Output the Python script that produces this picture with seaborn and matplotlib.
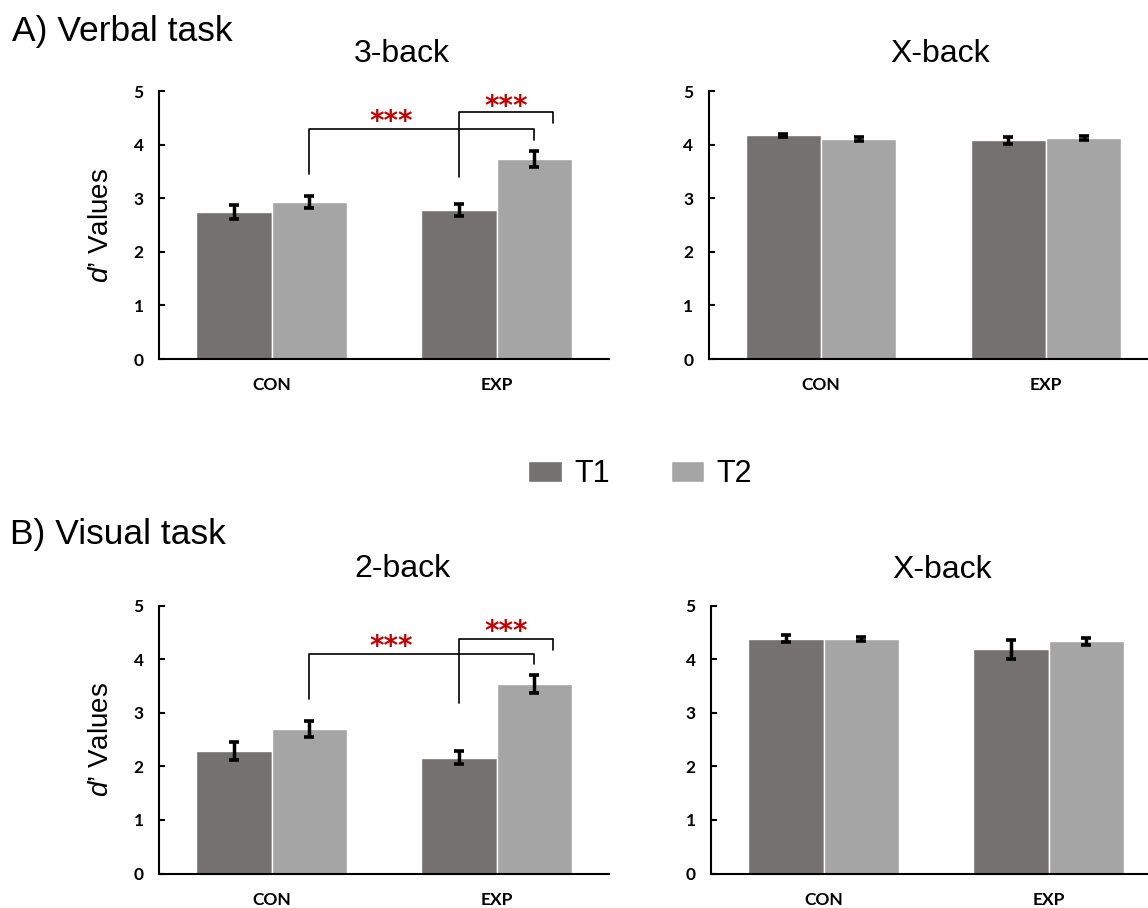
import numpy as np
import pandas as pd
import matplotlib
matplotlib.use("Agg")
import matplotlib.pyplot as plt
import seaborn as sns

# ---------------- data ----------------
groups = ["CON", "EXP"]
times = ["T1", "T2"]

verbal3_t1 = [2.75, 2.78]
verbal3_t2 = [2.93, 3.73]
verbal3_e1 = [0.13, 0.12]
verbal3_e2 = [0.11, 0.15]

verbalx_t1 = [4.17, 4.08]
verbalx_t2 = [4.10, 4.12]
verbalx_e1 = [0.03, 0.06]
verbalx_e2 = [0.04, 0.04]

visual2_t1 = [2.28, 2.16]
visual2_t2 = [2.70, 3.53]
visual2_e1 = [0.17, 0.12]
visual2_e2 = [0.15, 0.17]

visualx_t1 = [4.38, 4.18]
visualx_t2 = [4.38, 4.33]
visualx_e1 = [0.07, 0.18]
visualx_e2 = [0.04, 0.06]

panel_titles = ["3-back", "X-back", "2-back", "X-back"]
section_titles = ["A) Verbal task", "B) Visual task"]
yticks = [0, 1, 2, 3, 4, 5]
stars = "***"

# significance brackets (y levels): [top, left leg end, right leg end]
verbal_br1 = [4.29, 3.45, 4.09]
verbal_br2 = [4.60, 3.39, 4.40]
visual_br1 = [4.09, 3.26, 3.90]
visual_br2 = [4.38, 3.18, 4.17]
verbal_star_y = [4.43, 4.71]
visual_star_y = [4.22, 4.50]

colors = {"T1": "#767171", "T2": "#A5A5A5"}

sns.set_theme(style="white")
plt.rcParams["font.family"] = ["Liberation Sans", "DejaVu Sans"]
plt.rcParams["mathtext.fontset"] = "custom"
plt.rcParams["mathtext.it"] = "Liberation Sans:italic"
plt.rcParams["mathtext.rm"] = "Liberation Sans"
plt.rcParams["text.color"] = "black"
plt.rcParams["axes.labelcolor"] = "black"
plt.rcParams["xtick.color"] = "black"
plt.rcParams["ytick.color"] = "black"

W, H = 1148, 908
fig = plt.figure(figsize=(W / 100, H / 100), dpi=100)


def make_df(t1, t2, e1, e2):
    rows = []
    for g, v, e in zip(groups, t1, e1):
        rows.append({"Group": g, "Time": "T1", "Value": v, "Err": e})
    for g, v, e in zip(groups, t2, e2):
        rows.append({"Group": g, "Time": "T2", "Value": v, "Err": e})
    return pd.DataFrame(rows)


panels = [
    (make_df(verbal3_t1, verbal3_t2, verbal3_e1, verbal3_e2), (159, 91, 359), True, verbal_br1, verbal_br2, verbal_star_y),
    (make_df(verbalx_t1, verbalx_t2, verbalx_e1, verbalx_e2), (708.5, 91, 359), False, None, None, None),
    (make_df(visual2_t1, visual2_t2, visual2_e1, visual2_e2), (159, 605.5, 873.5), True, visual_br1, visual_br2, visual_star_y),
    (make_df(visualx_t1, visualx_t2, visualx_e1, visualx_e2), (711, 605.5, 873.5), False, None, None, None),
]

handles = labels = None

for i, (df, (left, ytop, ybot), has_ylab, br1, br2, sy) in enumerate(panels):
    ax = fig.add_axes([left / W, 1 - ybot / H, 450 / W, (ybot - ytop) / H])
    sns.barplot(data=df, x="Group", y="Value", hue="Time", order=groups,
                hue_order=times, palette=colors, width=0.67, errorbar=None,
                edgecolor="white", linewidth=1.0, saturation=1, ax=ax)
    # error bars from the bars themselves
    for cont, tm in zip(ax.containers, times):
        sub = df[df["Time"] == tm].set_index("Group").loc[groups]
        xs = [b.get_x() + b.get_width() / 2 for b in cont]
        ax.errorbar(xs, sub["Value"].values, yerr=sub["Err"].values, fmt="none",
                    ecolor="black", elinewidth=2.5, capsize=3.3, capthick=2.6, zorder=5)
    ax.set_xlim(-0.5, 1.5)
    ax.set_ylim(0, 5)
    ax.set_yticks(yticks)
    ax.set_xlabel("")
    ax.set_ylabel("")
    for s in ["top", "right"]:
        ax.spines[s].set_visible(False)
    for s in ["left", "bottom"]:
        ax.spines[s].set_color("black")
        ax.spines[s].set_linewidth(1.5)
    ax.tick_params(axis="y", direction="in", length=4.5, width=1.5, pad=11, left=True)
    ax.tick_params(axis="x", length=0, pad=13)
    for lab in ax.get_xticklabels() + ax.get_yticklabels():
        lab.set_fontfamily(["Lato", "DejaVu Sans"])
        lab.set_fontweight("bold")
        lab.set_fontsize(12.5)
        lab.set_color("black")
    if has_ylab:
        ax.set_ylabel(r"$d$" + "\u2019 Values", fontsize=20, labelpad=14)
    if handles is None:
        handles, labels = ax.get_legend_handles_labels()
    if ax.get_legend() is not None:
        ax.get_legend().remove()
    if br1 is not None:
        c1 = [b.get_x() + b.get_width() / 2 for b in ax.containers[0]]
        c2 = [b.get_x() + b.get_width() / 2 for b in ax.containers[1]]
        bw = ax.containers[0][0].get_width()
        # bracket 1: CON T2 -> EXP T2
        xa, xb = c2[0], c2[1]
        ax.plot([xa, xa, xb, xb], [br1[1], br1[0], br1[0], br1[2]], color="black", lw=1.2, zorder=6)
        # bracket 2: EXP T1 -> slightly right of EXP T2
        xc, xd = c1[1], c2[1] + bw * 0.25
        ax.plot([xc, xc, xd, xd], [br2[1], br2[0], br2[0], br2[2]], color="black", lw=1.2, zorder=6)
        ax.text((xa + xc) / 2 + 0.03, sy[0], stars, color="#C00000", fontsize=20,
                fontweight="bold", ha="center", va="center", family=["DejaVu Sans"])
        ax.text((xc + xd) / 2, sy[1], stars, color="#C00000", fontsize=20,
                fontweight="bold", ha="center", va="center", family=["DejaVu Sans"])

# titles
fig.text(12 / W, 1 - 41 / H, section_titles[0], fontsize=25.5, ha="left", va="baseline")
fig.text(10 / W, 1 - 544 / H, section_titles[1], fontsize=25.5, ha="left", va="baseline")
fig.text(402 / W, 1 - 62 / H, panel_titles[0], fontsize=23, ha="center", va="baseline")
fig.text(940 / W, 1 - 62 / H, panel_titles[1], fontsize=23, ha="center", va="baseline")
fig.text(402 / W, 1 - 577 / H, panel_titles[2], fontsize=23, ha="center", va="baseline")
fig.text(942 / W, 1 - 578 / H, panel_titles[3], fontsize=23, ha="center", va="baseline")

fig.legend(handles, labels, loc="center", bbox_to_anchor=(640 / W, 1 - 474 / H),
           ncol=2, frameon=False, fontsize=22, handlelength=1.1, handleheight=0.7,
           handletextpad=0.4, columnspacing=2.0)

fig.savefig("out.png", dpi=100)
